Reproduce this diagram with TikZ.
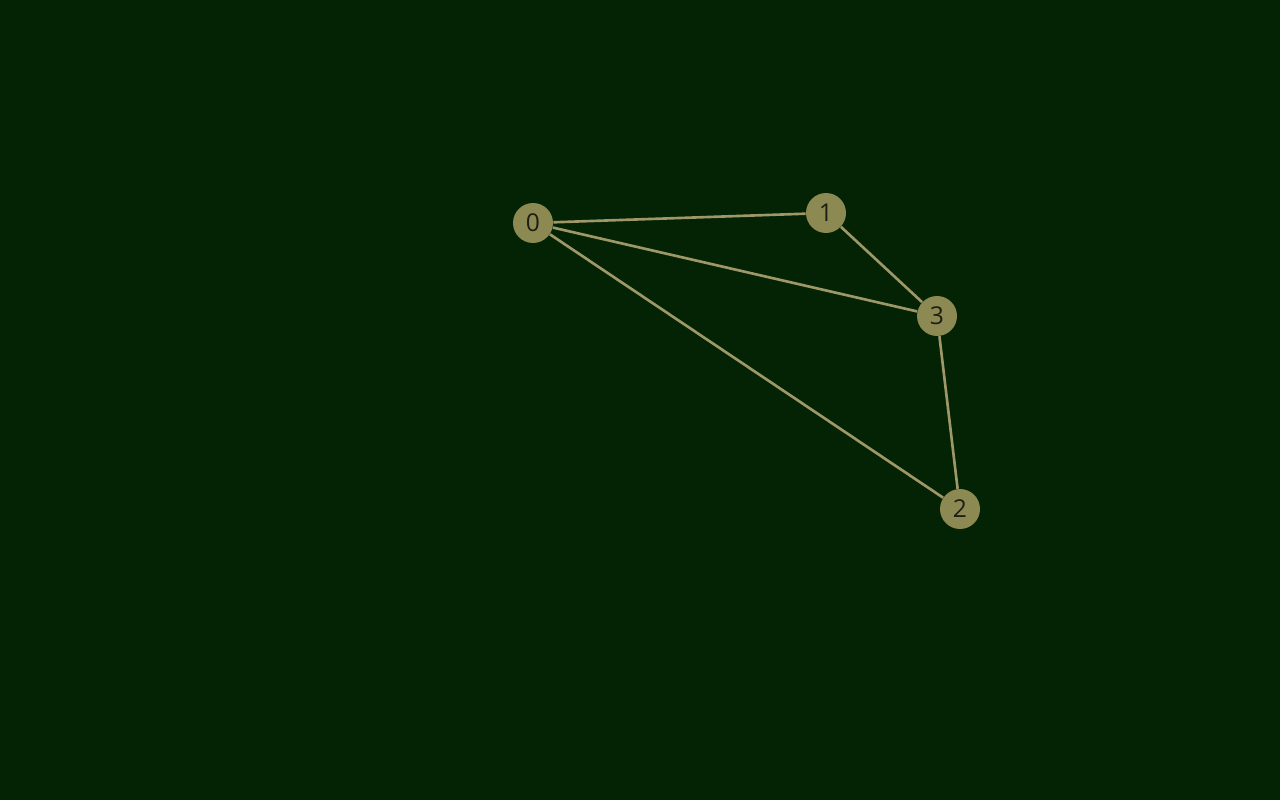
\documentclass[tikz,border=0pt]{standalone}
\usepackage{fontspec}
\setmainfont{Open Sans}
\definecolor{BackClr}{RGB}{4,34,4}
\definecolor{VertexClr}{RGB}{140,138,82}
\definecolor{EdgeClr}{RGB}{158,152,104}
\definecolor{LabelClr}{RGB}{30,30,20}

\begin{document}
\begin{tikzpicture}[x=0.02cm,y=-0.02cm,
  vertex/.style={circle,fill=VertexClr,minimum size=0.8cm,inner sep=0pt,
    text=LabelClr,font=\fontsize{14}{16}\selectfont},
  edge/.style={line width=1.5pt,color=EdgeClr}]
\fill[BackClr] (0,0) rectangle (1280,800);
\useasboundingbox (0,0) rectangle (1280,800);

\node[vertex] (v0) at (533,223) {0};
\node[vertex] (v1) at (826,213) {1};
\node[vertex] (v2) at (960,509) {2};
\node[vertex] (v3) at (937,316) {3};

\draw[edge] (v0) -- (v1);
\draw[edge] (v0) -- (v3);
\draw[edge] (v0) -- (v2);
\draw[edge] (v1) -- (v3);
\draw[edge] (v3) -- (v2);

\end{tikzpicture}
\end{document}
